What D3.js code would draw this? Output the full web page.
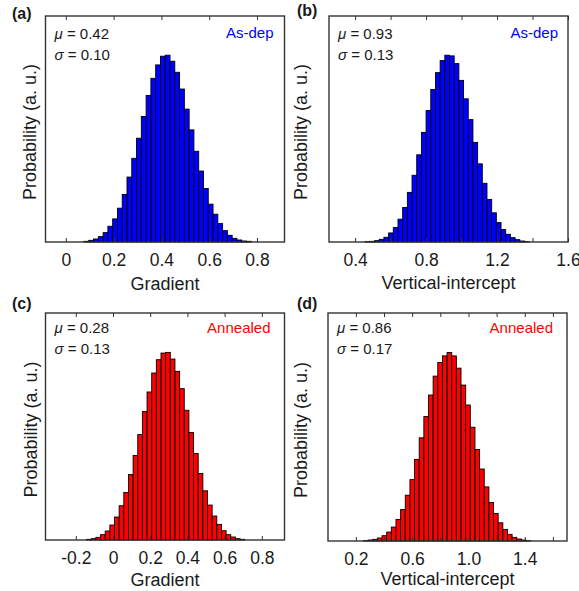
<!DOCTYPE html>
<html>
<head>
<meta charset="utf-8">
<script src="https://cdn.jsdelivr.net/npm/d3@7"></script>
<style>
  body { margin: 0; background: #fff; }
  svg { display: block; font-family: "Liberation Sans", Arial, sans-serif; }
</style>
</head>
<body>
<div id="chart"></div>
<script>
// histogram counts (relative)
var gradAsdepCounts = [2, 5, 9, 16, 28, 47, 69, 101, 142, 194, 250, 310, 375, 438, 489, 529, 555, 558,
    540, 507, 457, 397, 335, 271, 212, 160, 113, 83, 55, 34, 20, 11, 6, 3, 2];
var gradAsdepBins = [0.076, 0.02];          // first edge, bin width

var icptAsdepCounts = [1, 2, 4, 8, 14, 27, 43, 68, 103, 148, 199, 260, 327, 392, 455, 505, 541, 557,
    555, 532, 482, 427, 365, 297, 233, 175, 127, 87, 58, 37, 23, 13, 7, 3, 1];
var icptAsdepBins = [0.457, 0.0264];

var gradAnnCounts = [2, 4, 8, 16, 27, 45, 69, 103, 143, 197, 254, 317, 386, 445, 502, 542, 562, 564,
    544, 507, 455, 390, 323, 260, 200, 148, 105, 72, 47, 28, 16, 9, 4, 2];
var gradAnnBins = [-0.142, 0.025];

var icptAnnCounts = [1, 3, 5, 9, 16, 27, 42, 65, 95, 138, 185, 246, 311, 375, 440, 497, 538, 558,
    568, 558, 521, 470, 410, 343, 276, 217, 163, 116, 83, 55, 35, 20, 11, 6, 3, 1];
var icptAnnBins = [0.254, 0.033];

// axis ranges and ticks
var gradAsdepDomain = [-0.085, 0.915];
var gradAsdepTicks = [0, 0.2, 0.4, 0.6, 0.8];
var gradAsdepLabels = ["0", "0.2", "0.4", "0.6", "0.8"];

var icptAsdepDomain = [0.253, 1.6];
var icptAsdepTicks = [0.4, 0.6, 0.8, 1.0, 1.2, 1.4, 1.6];
var icptAsdepLabels = ["0.4", "", "0.8", "", "1.2", "", "1.6"];

var gradAnnDomain = [-0.363, 0.922];
var gradAnnTicks = [-0.2, 0, 0.2, 0.4, 0.6, 0.8];
var gradAnnLabels = ["-0.2", "0", "0.2", "0.4", "0.6", "0.8"];

var icptAnnDomain = [0.002, 1.7];
var icptAnnTicks = [0.2, 0.4, 0.6, 0.8, 1.0, 1.2, 1.4, 1.6];
var icptAnnLabels = ["0.2", "", "0.6", "", "1.0", "", "1.4", ""];

var panelNames = ["(a)", "(b)", "(c)", "(d)"];
var xTitles = ["Gradient", "Vertical-intercept", "Gradient", "Vertical-intercept"];
var muValues = ["0.42", "0.93", "0.28", "0.86"];
var sigmaValues = ["0.10", "0.13", "0.13", "0.17"];
var conditions = ["As-dep", "As-dep", "Annealed", "Annealed"];

var svgWidth = 579;
var svgHeight = 591;

var svg = d3.select("#chart")
    .append("svg")
    .attr("width", svgWidth)
    .attr("height", svgHeight);

var panels = [
    {counts: gradAsdepCounts, bins: gradAsdepBins, domain: gradAsdepDomain, ticks: gradAsdepTicks,
     labels: gradAsdepLabels, color: "#0000ff", left: 45.5, top: 16, bottom: 242,
     nameX: 12, nameY: 19, ylabX: 36, tagInset: 11, titleDy: 48},
    {counts: icptAsdepCounts, bins: icptAsdepBins, domain: icptAsdepDomain, ticks: icptAsdepTicks,
     labels: icptAsdepLabels, color: "#0000ff", left: 329, top: 16, bottom: 242,
     nameX: 297, nameY: 16, ylabX: 307, tagInset: 10, titleDy: 47},
    {counts: gradAnnCounts, bins: gradAnnBins, domain: gradAnnDomain, ticks: gradAnnTicks,
     labels: gradAnnLabels, color: "#ff0000", left: 45.5, top: 313, bottom: 540,
     nameX: 12, nameY: 309, ylabX: 37, tagInset: 14, titleDy: 46},
    {counts: icptAnnCounts, bins: icptAnnBins, domain: icptAnnDomain, ticks: icptAnnTicks,
     labels: icptAnnLabels, color: "#ff0000", left: 328, top: 313, bottom: 541,
     nameX: 297, nameY: 309, ylabX: 307, tagInset: 14, titleDy: 44}
];

var boxWidth = 239;

panels.forEach(function(p, i) {
    var h = p.bottom - p.top;
    var g = svg.append("g")
        .attr("transform", `translate(${p.left},${p.top})`);

    var x = d3.scaleLinear().domain(p.domain).range([0, boxWidth]);
    var y = d3.scaleLinear().domain([0, d3.max(p.counts) * 1.21]).range([h, 0]);

    // bars
    g.selectAll("rect.bar")
        .data(p.counts)
        .enter()
        .append("rect")
        .attr("class", "bar")
        .attr("x", (d, k) => x(p.bins[0] + k * p.bins[1]))
        .attr("width", (d, k) => x(p.bins[0] + (k + 1) * p.bins[1]) - x(p.bins[0] + k * p.bins[1]))
        .attr("y", d => y(d))
        .attr("height", d => h - y(d))
        .attr("fill", p.color)
        .attr("stroke", "#000")
        .attr("stroke-width", 0.9);

    // bottom axis, ticks inward
    var bottomAxis = d3.axisBottom(x)
        .tickValues(p.ticks)
        .tickFormat((d, k) => p.labels[k])
        .tickSizeInner(-4)
        .tickSizeOuter(0)
        .tickPadding(12);
    var xa = g.append("g")
        .attr("transform", `translate(0,${h})`)
        .call(bottomAxis);
    xa.select(".domain").remove();
    xa.selectAll("line").attr("stroke", "#333").attr("stroke-width", 1);
    xa.selectAll("text")
        .attr("fill", "#1a1a1a")
        .style("font-size", "17.5px")
        .style("font-family", "'Liberation Sans', Arial, sans-serif");

    var topAxis = d3.axisTop(x)
        .tickValues(p.ticks)
        .tickFormat("")
        .tickSizeInner(-4)
        .tickSizeOuter(0);
    var ta = g.append("g").call(topAxis);
    ta.select(".domain").remove();
    ta.selectAll("line").attr("stroke", "#333").attr("stroke-width", 1);

    // frame
    g.append("rect")
        .attr("width", boxWidth)
        .attr("height", h)
        .attr("fill", "none")
        .attr("stroke", "#333")
        .attr("stroke-width", 1.4);

    // axis titles
    g.append("text")
        .attr("x", boxWidth / 2)
        .attr("y", h + p.titleDy)
        .attr("text-anchor", "middle")
        .style("font-size", "18px")
        .attr("fill", "#1a1a1a")
        .text(xTitles[i]);

    svg.append("text")
        .attr("transform", `translate(${p.ylabX},${p.top + h / 2 + 3}) rotate(-90)`)
        .attr("text-anchor", "middle")
        .style("font-size", "18px")
        .attr("fill", "#1a1a1a")
        .text("Probability (a. u.)");

    // stats
    var mu = g.append("text")
        .attr("x", 9)
        .attr("y", i < 2 ? 23 : 20)
        .style("font-size", "15px")
        .attr("fill", "#1a1a1a");
    mu.append("tspan").style("font-style", "italic").text("\u03bc");
    mu.append("tspan").text(" = " + muValues[i]);

    var sg = g.append("text")
        .attr("x", 9)
        .attr("y", i < 2 ? 44 : 40.5)
        .style("font-size", "15px")
        .attr("fill", "#1a1a1a");
    sg.append("tspan").style("font-style", "italic").text("\u03c3");
    sg.append("tspan").text(" = " + sigmaValues[i]);

    g.append("text")
        .attr("x", boxWidth - p.tagInset)
        .attr("y", i < 2 ? 22 : 20)
        .attr("text-anchor", "end")
        .style("font-size", "15px")
        .attr("fill", p.color)
        .text(conditions[i]);

    // panel letter
    svg.append("text")
        .attr("x", p.nameX)
        .attr("y", p.nameY)
        .style("font-size", "16px")
        .style("font-weight", "bold")
        .attr("fill", "#1a1a1a")
        .text(panelNames[i]);
});
</script>
</body>
</html>
